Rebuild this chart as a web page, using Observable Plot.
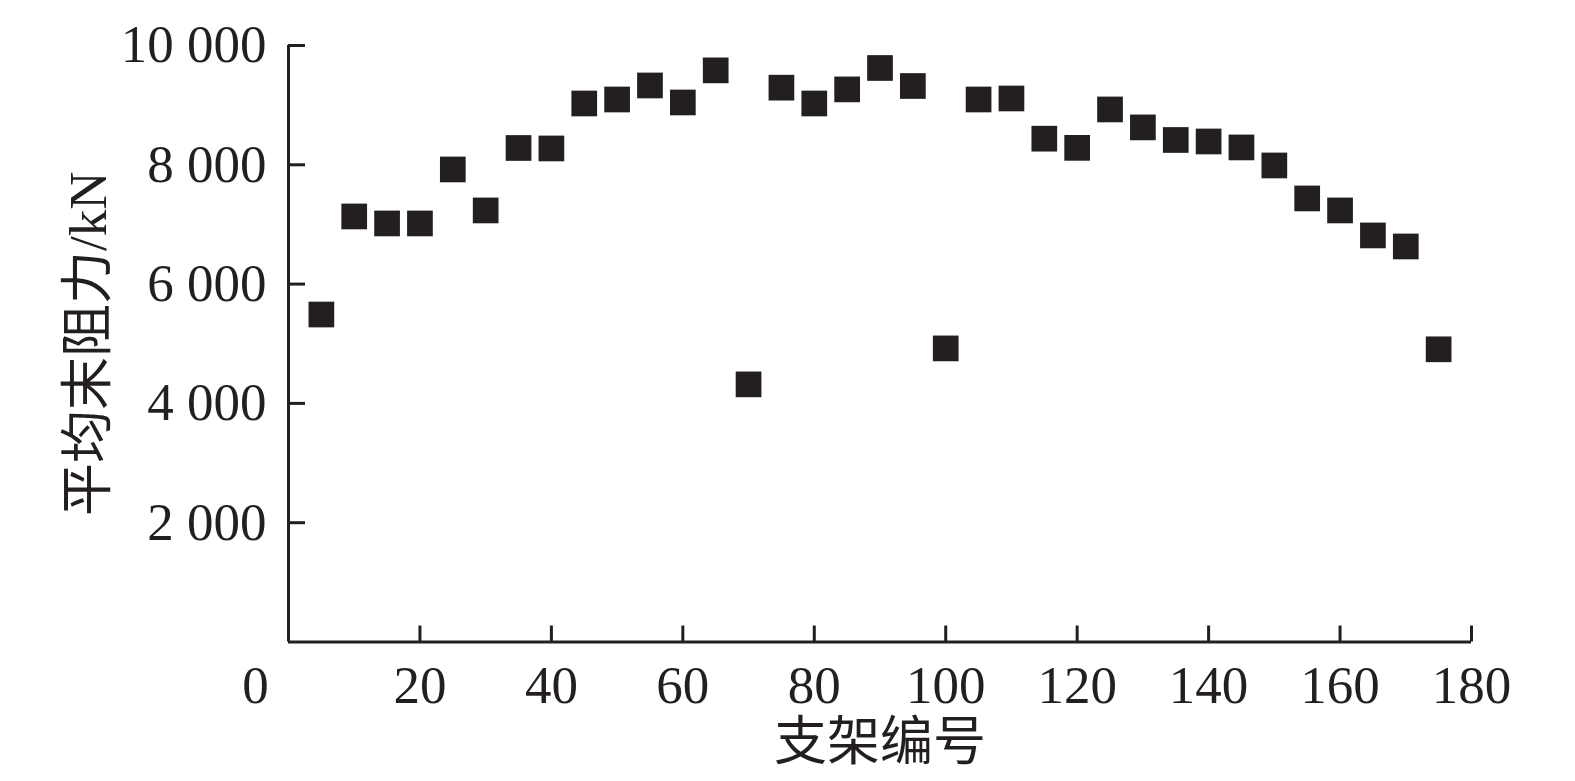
<!DOCTYPE html>
<html><head><meta charset="utf-8">
<script src="https://cdn.jsdelivr.net/npm/d3@7"></script>
<script src="https://cdn.jsdelivr.net/npm/@observablehq/plot@0.6"></script>
<style>html,body{margin:0;padding:0;background:#fff;overflow:hidden}</style>
</head><body><div id="chart"></div>
<script>
// Data
const supportIds = [5,10,15,20,25,30,35,40,45,50,55,60,65,70,75,80,85,90,95,100,105,110,115,120,125,130,135,140,145,150,155,160,165,170,175];
const meanResistance = [5490,7134,7017,7017,7922,7235,8282,8274,9028,9095,9330,9045,9583,4319,9293,9028,9264,9623,9321,4922,9095,9112,8438,8284,8928,8627,8416,8391,8291,7989,7436,7235,6816,6631,4907];
const xTicks = [20,40,60,80,100,120,140,160,180];
const xZeroLabel = [0];
const yTicks = [2000,4000,6000,8000,10000];
const yTickLabels = ["2 000","4 000","6 000","8 000","10 000"];
const xLabel = "支架编号";
const yLabel = "平均末阻力/kN";

const data = supportIds.map((id, i) => ({id, value: meanResistance[i]}));
const ink = "#231f20";
const font = '"Liberation Serif","Times New Roman","Noto Sans CJK SC",serif';

const chart = Plot.plot({
  width: 1575, height: 781,
  marginLeft: 288, marginRight: 104, marginTop: 45, marginBottom: 139.5,
  style: {fontFamily: font, fontSize: "53px", color: ink, background: "#fff"},
  x: {domain: [0, 180]},
  y: {domain: [0, 10000]},
  marks: [
    Plot.axisY(yTicks, {tickSize: -17, tickPadding: 39, strokeWidth: 3, tickFormat: d => yTickLabels[yTicks.indexOf(d)], label: null, fontSize: 53}),
    Plot.axisX(xTicks, {tickSize: -16, tickPadding: 39, strokeWidth: 3, label: null, fontSize: 53}),
    Plot.text(xZeroLabel, {x: d => d, y: () => 0, text: d => String(d), dx: -33, dy: 23, lineAnchor: "top", fontSize: 53, fill: ink}),
    Plot.ruleX([0], {stroke: ink, strokeWidth: 3}),
    Plot.ruleY([0], {stroke: ink, strokeWidth: 3}),
    Plot.dot(data, {x: "id", y: "value", symbol: "square", r: 14.5, fill: ink, stroke: "none"}),
    Plot.text([xLabel], {frameAnchor: "bottom", dy: 101, lineAnchor: "middle", fontSize: 53, fill: ink, textAnchor: "middle"}),
    Plot.text([yLabel], {frameAnchor: "left", rotate: -90, dx: -199, lineAnchor: "middle", fontSize: 53, fill: ink, textAnchor: "middle"})
  ]
});
document.getElementById("chart").appendChild(chart);
</script>
</body></html>
